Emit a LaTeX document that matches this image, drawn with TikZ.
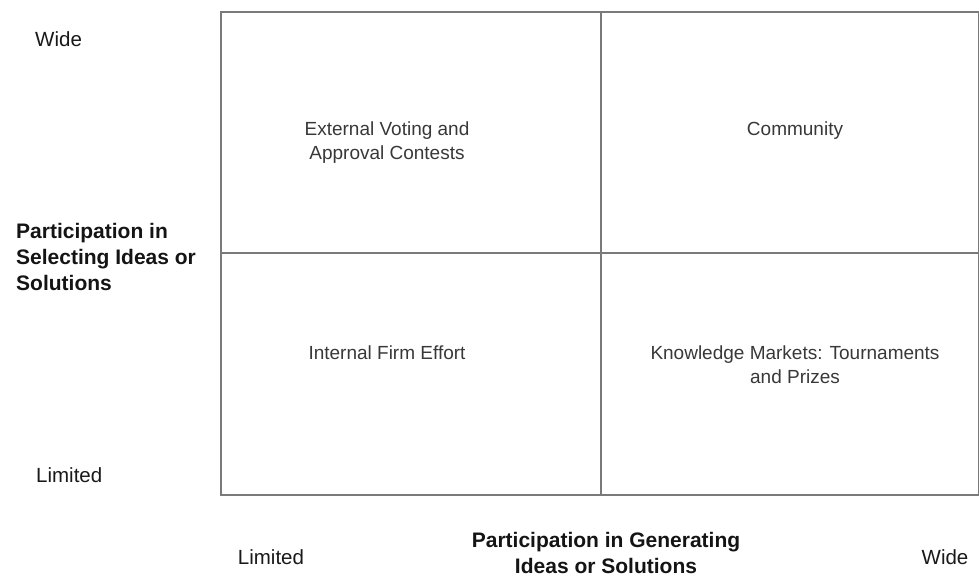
\documentclass[tikz,border=0pt]{standalone}
\usepackage{fontspec}
\setmainfont{Liberation Sans}
\begin{document}
\begin{tikzpicture}[x=1pt,y=-1pt,
  gridline/.style={draw=black!52, line width=1.6pt},
  quad/.style={align=center, text=black!78, font=\fontsize{19}{24}\selectfont, inner sep=0pt},
  axislbl/.style={text=black!90, font=\fontsize{20.5}{25}\selectfont, inner sep=0pt},
  axistitle/.style={text=black!92, font=\fontsize{21}{26}\selectfont\bfseries, inner sep=0pt}
]
\useasboundingbox (0,0) rectangle (979,578);
\coordinate (tl) at (221,12);
\coordinate (br) at (978.5,495);
\coordinate (mt) at (601,12);
\coordinate (mb) at (601,495);
\coordinate (ml) at (221,253);
\coordinate (mr) at (979,253);
\draw[gridline] (tl) rectangle (br);
\draw[gridline] (mt) -- (mb);
\draw[gridline] (ml) -- (mr);

\node[quad] (q1) at (387,143) {External Voting and\\Approval Contests};
\node[quad] (q2) at (795,131) {Community};
\node[quad] (q3) at (387,353) {Internal Firm Effort};
\node[quad] (q4) at (795,365) {Knowledge Markets: Tournaments\\and Prizes};

\node[axislbl, anchor=base west] (ywide) at (35,47) {Wide};
\node[axislbl, anchor=base west] (ylim) at (36,482) {Limited};
\node[axistitle, anchor=base west, align=left] (ytitle) at (16,290) {Participation in\\Selecting Ideas or\\Solutions};

\node[axislbl, anchor=base] (xlim) at (271,564) {Limited};
\node[axislbl, anchor=base] (xwide) at (945,564) {Wide};
\node[axistitle, anchor=base, align=center] (xtitle) at (606,573) {Participation in Generating\\Ideas or Solutions};
\end{tikzpicture}
\end{document}
